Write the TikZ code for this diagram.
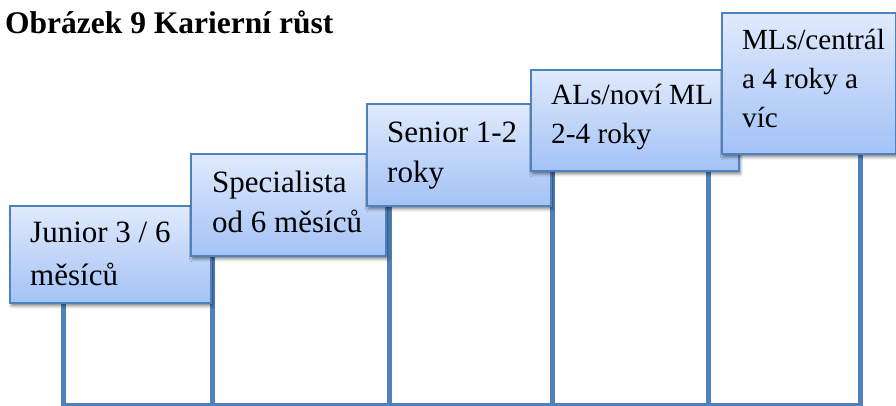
\documentclass[tikz,border=0pt]{standalone}
\usepackage{fontspec}
\setmainfont{Liberation Serif}
\usetikzlibrary{shadows.blur}
\definecolor{stepblue}{RGB}{79,129,189}
\definecolor{steptop}{RGB}{224,234,252}
\definecolor{stepbottom}{RGB}{163,194,246}
\tikzset{
  stepbox/.style={draw=stepblue, line width=1.8pt, top color=steptop, bottom color=stepbottom,
    anchor=north west, inner sep=0pt,
    blur shadow={shadow xshift=1.5pt, shadow yshift=-3pt, shadow blur radius=3pt, shadow opacity=50}},
  % anchored at the baseline of the last line
  steptext/.style={anchor=base west, inner sep=0pt, align=left,
    font=\fontsize{31}{40}\selectfont},
  column/.style={draw=stepblue, line width=5pt},
  baseline rule/.style={draw=stepblue, line width=2.5pt}
}
\begin{document}
\begin{tikzpicture}[x=1pt, y=1pt]
  \useasboundingbox (0,0) rectangle (896,406);

  % heading
  \node[anchor=base west, inner sep=0pt, font=\bfseries\fontsize{31.5}{36}\selectfont]
    (title) at (5,372) {Obrázek 9 Karierní růst};

  % top-left corners of the step boxes
  \path (9,201)   coordinate (p1)
        (190,253) coordinate (p2)
        (366,303) coordinate (p3)
        (530,337) coordinate (p4)
        (721,394) coordinate (p5);

  % column feet on the ground line
  \coordinate (c1) at (63,1.5);
  \coordinate (c2) at (212,1.5);
  \coordinate (c3) at (389,1.5);
  \coordinate (c4) at (552,1.5);
  \coordinate (c5) at (708,1.5);
  \coordinate (c6) at (860,1.5);

  % ground line
  \draw[baseline rule] ([xshift=-2.5pt]c1) -- ([xshift=2.5pt]c6);

  % vertical columns, each reaching up under its box
  \draw[column] (c1) -- (63,104);
  \draw[column] (c2) -- (212,151);
  \draw[column] (c3) -- (389,201);
  \draw[column] (c4) -- (552,236);
  \draw[column] (c5) -- (708,236);
  \draw[column] (c6) -- (860,253);

  % boxes
  \node[stepbox, minimum width=201pt, minimum height=97pt]  (junior) at (p1) {};
  \node[steptext, font=\fontsize{31}{43}\selectfont] (juniortext) at (30,120) {Junior 3 / 6\\měsíců};

  \node[stepbox, minimum width=195pt, minimum height=102pt] (spec) at (p2) {};
  \node[steptext] (spectext) at (212,173) {Specialista\\od 6 měsíců};

  \node[stepbox, minimum width=184pt, minimum height=102pt] (senior) at (p3) {};
  \node[steptext] (seniortext) at (387,223) {Senior 1-2\\roky};

  \node[stepbox, minimum width=208pt, minimum height=101pt] (als) at (p4) {};
  \node[steptext, font=\fontsize{29.3}{39}\selectfont] (alstext) at (551,262) {ALs/noví ML\\2-4 roky};

  \node[stepbox, minimum width=174pt, minimum height=141pt] (mls) at (p5) {};
  \node[steptext, font=\fontsize{29.2}{39}\selectfont] (mlstext) at (742,278) {MLs/centrál\\a 4 roky a\\víc};
\end{tikzpicture}
\end{document}
